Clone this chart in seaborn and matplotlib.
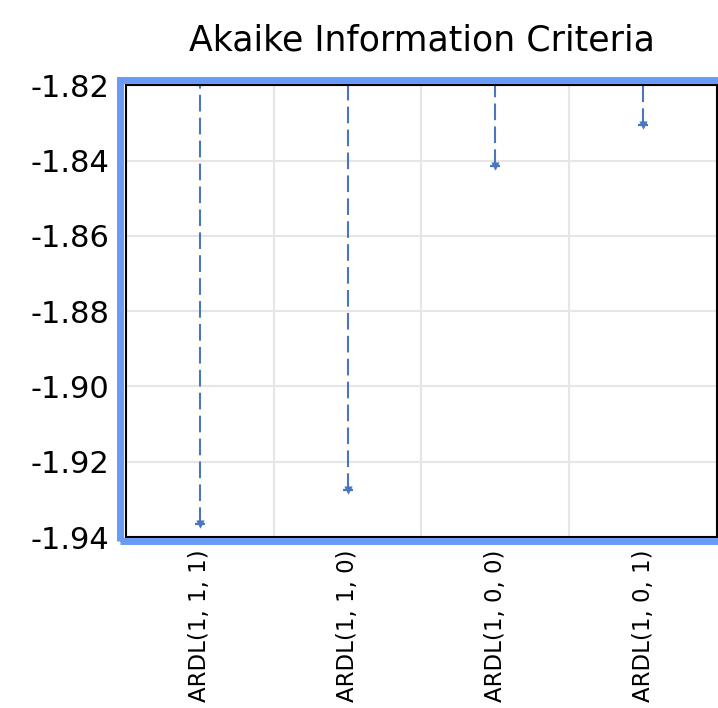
import matplotlib
matplotlib.use("Agg")
import matplotlib.pyplot as plt
from matplotlib.patches import Rectangle
import seaborn as sns
import pandas as pd

models = ["ARDL(1, 1, 1)", "ARDL(1, 1, 0)", "ARDL(1, 0, 0)", "ARDL(1, 0, 1)"]
aic = [-1.9365, -1.9275, -1.8415, -1.8305]
yticks = [-1.82, -1.84, -1.86, -1.88, -1.90, -1.92, -1.94]

df = pd.DataFrame({"model": models, "aic": aic})
df["pos"] = range(len(models))

sns.set_style("white")
plt.rcParams["font.family"] = ["DejaVu Sans"]
plt.rcParams["text.color"] = "black"
plt.rcParams["xtick.color"] = "black"
plt.rcParams["ytick.color"] = "black"

fig = plt.figure(figsize=(7.18, 7.08), dpi=100)
ax = fig.add_axes([0.1755, 0.2415, 0.823, 0.638])

blue = "#4A76C0"
top = -1.82
ax.vlines(df["pos"], df["aic"], top, colors=blue, linestyles=(0, (8, 3)), linewidth=1.5)
sns.scatterplot(data=df, x="pos", y="aic", marker="v", s=28, color=blue, edgecolor=blue, ax=ax, zorder=3)
sns.scatterplot(data=df, x="pos", y="aic", marker="_", s=60, color=blue, linewidth=1.6, ax=ax, zorder=3)

ax.set_xlim(-0.5, 3.5)
ax.set_ylim(-1.94, -1.82)
ax.set_yticks(yticks)
ax.set_yticklabels([f"{v:.2f}" for v in yticks], fontsize=22)
ax.set_xticks(df["pos"])
ax.set_xticklabels(models, rotation=90, fontsize=16.5,
                   family=["Liberation Sans Narrow", "DejaVu Sans"])
ax.set_xticks([0.5, 1.5, 2.5], minor=True)
ax.grid(True, which="minor", axis="x", color="#E6E6E6", linewidth=1.5)
ax.grid(True, which="major", axis="y", color="#E6E6E6", linewidth=1.5)
ax.set_axisbelow(True)
ax.tick_params(axis="both", which="both", length=0)
ax.tick_params(axis="y", pad=12)
ax.tick_params(axis="x", pad=9)
ax.set_xlabel("")
ax.set_ylabel("")
for s in ax.spines.values():
    s.set_color("black")
    s.set_linewidth(1.5)

ax.set_title("Akaike Information Criteria", fontsize=25, pad=25, x=0.5)

# blue selection frame around the plot area
fig.patches.append(Rectangle((0.1675, 0.2355), 0.9, 0.651, transform=fig.transFigure,
                             fill=False, edgecolor="#6A9BF4", linewidth=5, zorder=0))

fig.savefig("out.png", dpi=100)
